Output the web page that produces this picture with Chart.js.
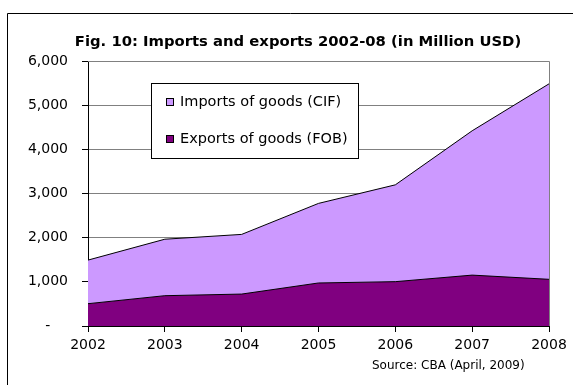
<!DOCTYPE html>
<html>
<head>
<meta charset="utf-8">
<script src="https://cdn.jsdelivr.net/npm/chart.js@4"></script>
<style>
  html, body { margin: 0; padding: 0; background: #fff; }
  #wrap { width: 573px; height: 385px; position: relative; }
</style>
</head>
<body>
<div id="wrap"><canvas id="c" width="573" height="385"></canvas></div>
<script>
// Trade in goods, million USD
const years = ['2002', '2003', '2004', '2005', '2006', '2007', '2008'];
const exportsFOB = [505, 686, 723, 974, 1004, 1152, 1057];
const importsCIF = [987, 1279, 1351, 1802, 2192, 3268, 4426];
const yTicks = [0, 1000, 2000, 3000, 4000, 5000, 6000];

const titleText = 'Fig. 10: Imports and exports 2002-08 (in Million USD)';
const sourceText = 'Source: CBA (April, 2009)';
const FONT = '"DejaVu Sans", Verdana, sans-serif';

// Frame, title, plot border, legend box and source note
const decorations = {
  id: 'decorations',
  beforeDraw(chart) {
    const ctx = chart.ctx;
    ctx.save();
    ctx.fillStyle = '#fff';
    ctx.fillRect(0, 0, chart.width, chart.height);
    ctx.strokeStyle = '#000';
    ctx.lineWidth = 1;
    ctx.beginPath();
    ctx.moveTo(7.5, chart.height);
    ctx.lineTo(7.5, 13.5);
    ctx.lineTo(chart.width, 13.5);
    ctx.stroke();
    ctx.restore();
  },
  afterDraw(chart) {
    const ctx = chart.ctx;
    const a = chart.chartArea;
    ctx.save();
    // plot area outline on top and right
    ctx.strokeStyle = '#808080';
    ctx.lineWidth = 1;
    ctx.beginPath();
    ctx.moveTo(a.left, Math.round(a.top) + 0.5);
    ctx.lineTo(Math.round(a.right) + 0.5, Math.round(a.top) + 0.5);
    ctx.lineTo(Math.round(a.right) + 0.5, a.bottom);
    ctx.stroke();

    // title
    ctx.fillStyle = '#000';
    ctx.font = 'bold 14.8px ' + FONT;
    ctx.textAlign = 'center';
    ctx.textBaseline = 'middle';
    ctx.fillText(titleText, 298, 42);

    // source
    ctx.font = '12px ' + FONT;
    ctx.textAlign = 'left';
    ctx.fillText(sourceText, 372, 366);

    // legend box
    const bx = 151.5, by = 83.5, bw = 207, bh = 75;
    ctx.fillStyle = '#fff';
    ctx.fillRect(bx, by, bw, bh);
    ctx.strokeStyle = '#000';
    ctx.strokeRect(bx, by, bw, bh);
    const items = [chart.data.datasets[1], chart.data.datasets[0]];
    const rows = [102, 139];
    ctx.font = '14.5px ' + FONT;
    items.forEach((ds, i) => {
      const y = rows[i];
      ctx.fillStyle = ds.backgroundColor;
      ctx.fillRect(166.5, y - 3.5, 7, 7);
      ctx.strokeStyle = '#000';
      ctx.strokeRect(166.5, y - 3.5, 7, 7);
      ctx.fillStyle = '#000';
      ctx.textAlign = 'left';
      ctx.textBaseline = 'middle';
      ctx.fillText(ds.label, 180, y);
    });
    ctx.restore();
  }
};

new Chart(document.getElementById('c'), {
  type: 'line',
  data: {
    labels: years,
    datasets: [
      {
        label: 'Exports of goods (FOB)',
        data: exportsFOB,
        backgroundColor: '#800080',
        borderColor: '#000',
        borderWidth: 1,
        pointRadius: 0,
        tension: 0,
        fill: 'origin'
      },
      {
        label: 'Imports of goods (CIF)',
        data: importsCIF,
        backgroundColor: '#CC99FF',
        borderColor: '#000',
        borderWidth: 1,
        pointRadius: 0,
        tension: 0,
        fill: '-1'
      }
    ]
  },
  options: {
    responsive: false,
    animation: false,
    events: [],
    layout: { padding: { left: 0, top: 61, right: 24, bottom: 0 } },
    plugins: {
      legend: { display: false },
      title: { display: false },
      tooltip: { enabled: false }
    },
    scales: {
      x: {
        offset: false,
        grid: {
          display: true,
          drawOnChartArea: false,
          drawTicks: true,
          tickLength: 6,
          color: '#000'
        },
        border: { display: true, color: '#000', width: 1 },
        ticks: {
          color: '#000',
          font: { family: FONT, size: 14 },
          padding: 5,
          maxRotation: 0,
          autoSkip: false
        },
        afterFit(scale) { scale.height = 59; }
      },
      y: {
        stacked: true,
        min: 0,
        max: 6000,
        afterBuildTicks(scale) { scale.ticks = yTicks.map(v => ({ value: v })); },
        grid: {
          color: (c) => c.tick && c.tick.value === 0 ? '#000' : '#808080',
          tickColor: '#000',
          tickLength: 6,
          drawTicks: true
        },
        border: { display: true, color: '#000', width: 1 },
        ticks: {
          color: '#000',
          font: { family: FONT, size: 14 },
          padding: 14,
          callback: (v) => v === 0 ? '-    ' : v.toLocaleString('en-US')
        },
        afterFit(scale) { scale.width = 88; }
      }
    }
  },
  plugins: [decorations]
});
</script>
</body>
</html>
